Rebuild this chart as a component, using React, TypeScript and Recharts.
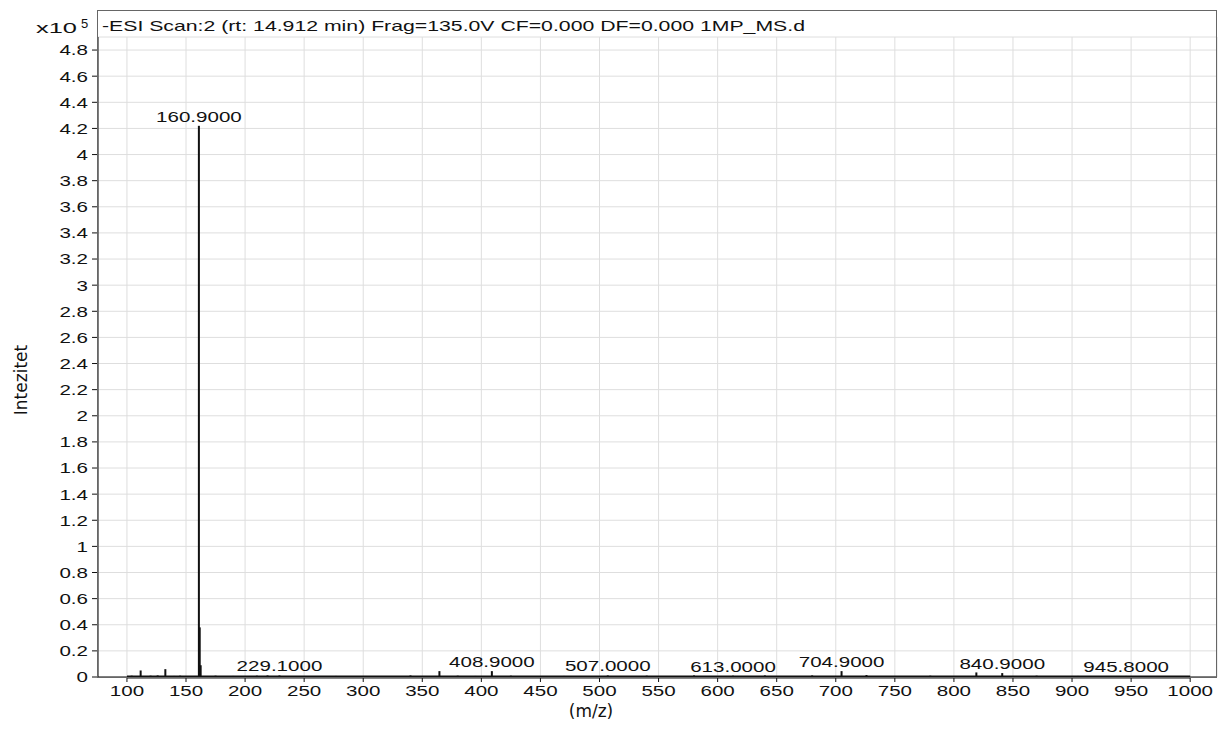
import React from 'react';
import { ComposedChart, Bar, XAxis, YAxis, CartesianGrid, LabelList, ReferenceLine } from 'recharts';

// m/z of the sticks, intensity in units of 10^5
const peakMz = [104, 111.6, 120, 126, 132.5, 140, 145, 160.9, 161.6, 162.4, 175, 190, 210, 219, 229.1, 250, 277, 340, 364.5, 380, 395, 408.9, 425, 470, 507.0, 540, 580, 613.0, 640, 680, 704.9, 726, 780, 819, 840.9, 870, 905, 945.8, 985];
const peakIntensity = [0.01, 0.05, 0.01, 0.012, 0.06, 0.008, 0.01, 4.22, 0.38, 0.09, 0.01, 0.008, 0.01, 0.012, 0.012, 0.006, 0.008, 0.012, 0.045, 0.01, 0.008, 0.045, 0.01, 0.008, 0.012, 0.01, 0.012, 0.01, 0.012, 0.012, 0.045, 0.015, 0.01, 0.035, 0.03, 0.01, 0.008, 0.008, 0.006];
const peakLabels = ['', '', '', '', '', '', '', '160.9000', '', '', '', '', '', '', '229.1000', '', '', '', '', '', '', '408.9000', '', '', '507.0000', '', '', '613.0000', '', '', '704.9000', '', '', '', '840.9000', '', '', '945.8000', ''];

const xTicks = [100, 150, 200, 250, 300, 350, 400, 450, 500, 550, 600, 650, 700, 750, 800, 850, 900, 950, 1000];
const yTicks = [0, 0.2, 0.4, 0.6, 0.8, 1, 1.2, 1.4, 1.6, 1.8, 2, 2.2, 2.4, 2.6, 2.8, 3, 3.2, 3.4, 3.6, 3.8, 4, 4.2, 4.4, 4.6, 4.8];

const title = '-ESI Scan:2 (rt: 14.912 min) Frag=135.0V CF=0.000 DF=0.000 1MP_MS.d';

const data = peakMz.map((mz, i) => ({ mz, intensity: peakIntensity[i], label: peakLabels[i] }));

const FONT = "'Liberation Sans', Arial, sans-serif";
const STRETCH = 1.37;

const XTick = ({ x, y, payload }: any) => (
  <g transform={`translate(${x},${y})`}>
    <text transform={`scale(${STRETCH},1)`} textAnchor="middle" dy="0.71em" fontSize={15} fontFamily={FONT} fill="#111">
      {payload.value}
    </text>
  </g>
);

const YTick = ({ x, y, payload }: any) => (
  <g transform={`translate(${x},${y})`}>
    <text transform={`scale(${STRETCH},1)`} textAnchor="end" dy="0.36em" fontSize={15} fontFamily={FONT} fill="#111">
      {Number(payload.value.toFixed(1)).toString()}
    </text>
  </g>
);

const Stick = (props: any) => {
  const { x, y, width, height } = props;
  if (!height || height <= 0) return null;
  return <rect x={x + width / 2 - 1} y={y} width={2} height={height} fill="#111" />;
};

const PeakLabel = (props: any) => {
  const { x, y, width, value } = props;
  if (!value) return null;
  return (
    <g transform={`translate(${x + width / 2},${y - 4})`}>
      <text transform={`scale(${STRETCH},1)`} textAnchor="middle" fontSize={15} fontFamily={FONT} fill="#111">
        {value}
      </text>
    </g>
  );
};

const App: React.FC = () => {
  return (
    <div style={{ position: 'absolute', left: 0, top: 0, width: 1218, height: 748, background: '#fff' }}>
      <ComposedChart width={1218} height={748} data={data} margin={{ top: 37, right: 1, bottom: 0, left: 0 }}>
        <CartesianGrid stroke="#dedede" />
        <XAxis
          dataKey="mz"
          type="number"
          domain={[75.5, 1022.7]}
          ticks={xTicks}
          allowDataOverflow
          height={71}
          tickSize={5}
          tickMargin={3}
          tick={<XTick />}
          axisLine={{ stroke: '#111' }}
          tickLine={{ stroke: '#111' }}
          interval={0}
        />
        <YAxis
          type="number"
          domain={[0, 4.9]}
          ticks={yTicks}
          allowDataOverflow
          width={98}
          tickSize={6}
          tickMargin={4}
          tick={<YTick />}
          axisLine={{ stroke: '#111' }}
          tickLine={{ stroke: '#111' }}
          interval={0}
        />
        <ReferenceLine segment={[{ x: 100, y: 0 }, { x: 1000, y: 0 }]} stroke="#111" strokeWidth={3} />
        <Bar dataKey="intensity" shape={<Stick />} isAnimationActive={false}>
          <LabelList dataKey="label" content={<PeakLabel />} />
        </Bar>
      </ComposedChart>
      <svg width={1218} height={748} style={{ position: 'absolute', left: 0, top: 0, pointerEvents: 'none' }}>
        <rect x={97.5} y={10.5} width={1119} height={667} fill="none" stroke="#666" />
        <text x={102} y={31} fontSize={15} fontFamily={FONT} fill="#111" textLength={703} lengthAdjust="spacingAndGlyphs">
          {title}
        </text>
        <text x={36} y={33} fontSize={15} fontFamily={FONT} fill="#111" textLength={41} lengthAdjust="spacingAndGlyphs">
          x10
        </text>
        <text x={81} y={28} fontSize={13} fontFamily={FONT} fill="#111">5</text>
        <text
          x={21}
          y={380}
          transform="rotate(-90 21 380)"
          textAnchor="middle"
          dy="0.35em"
          fontSize={17}
          fontFamily="'DejaVu Sans', Verdana, sans-serif"
          fill="#111"
        >
          Intezitet
        </text>
        <text x={591} y={711} textAnchor="middle" dy="0.35em" fontSize={17} fontFamily="'DejaVu Sans', Verdana, sans-serif" fill="#111">
          (m/z)
        </text>
      </svg>
    </div>
  );
};

export default App;
